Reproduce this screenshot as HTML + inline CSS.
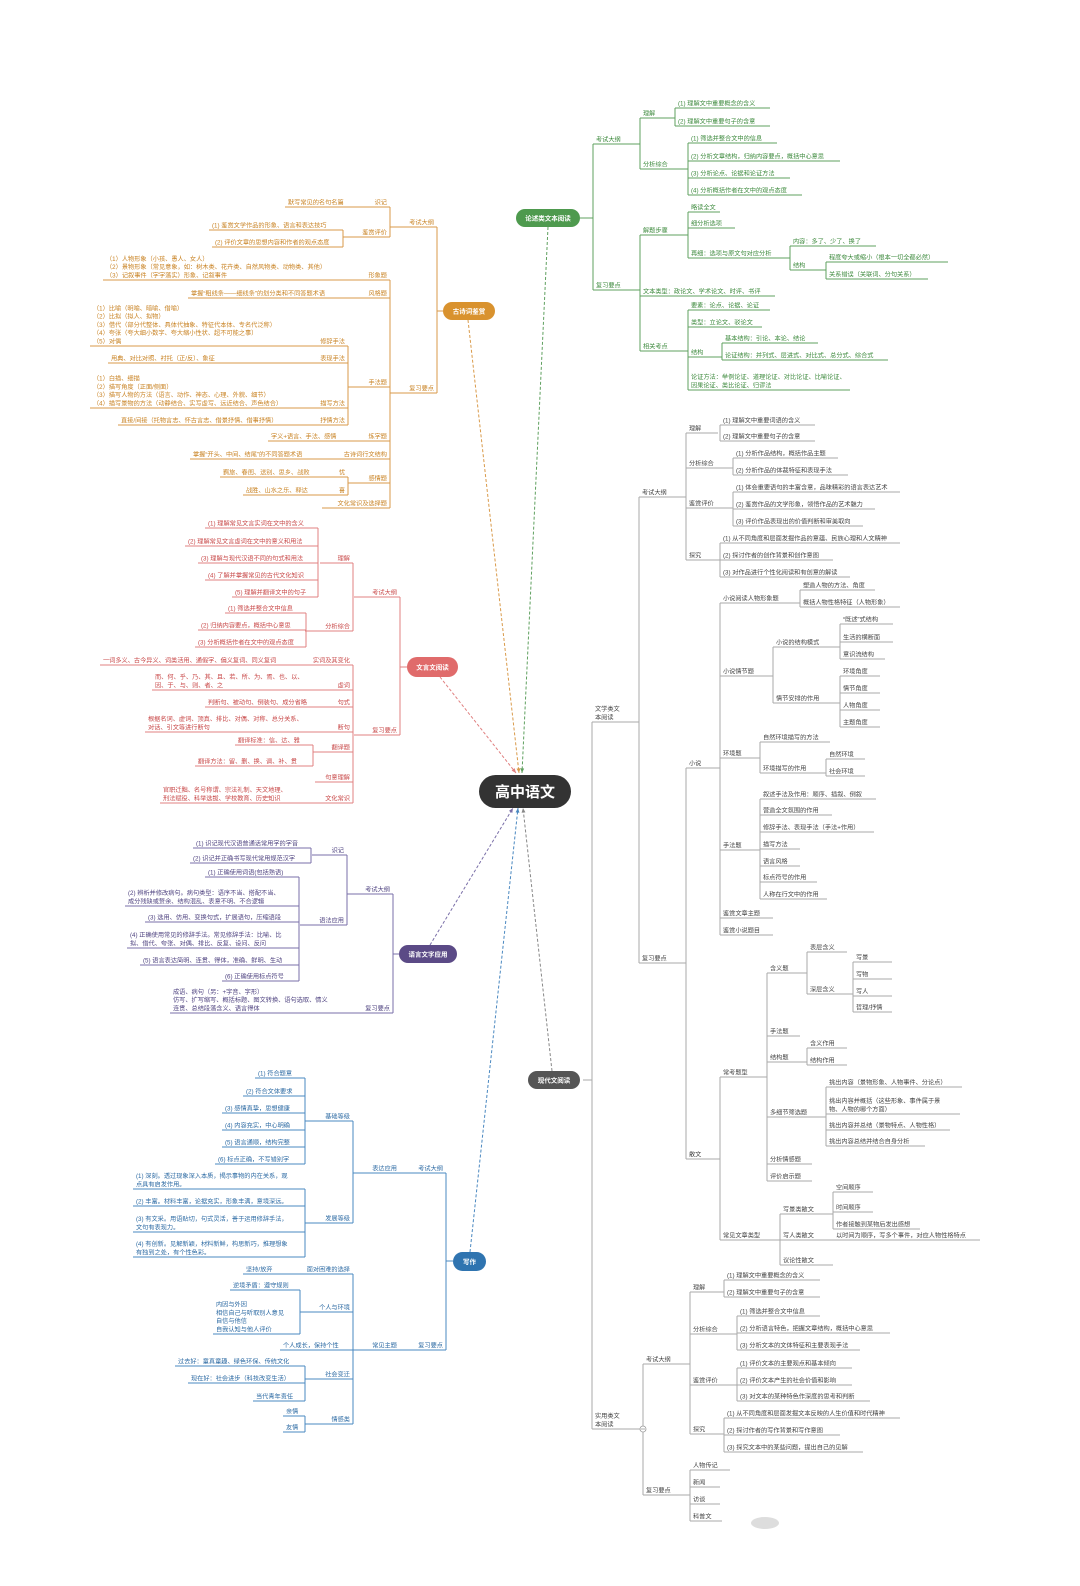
<!DOCTYPE html>
<html><head><meta charset="utf-8">
<style>
html,body{margin:0;padding:0;background:#fff;}
#w{position:relative;width:1080px;height:1586px;overflow:hidden;}
svg{position:absolute;left:0;top:0;}
text{font-family:"Liberation Sans","Noto Sans CJK SC",sans-serif;font-size:6.2px;}
</style></head><body><div id="w"><svg id="s" width="1080" height="1586" viewBox="0 0 1080 1586"></svg></div>
<script>
var C={O:['#c98324','#d99a4a'],G:['#3d8a3d','#5fa05f'],R:['#c84848','#e08080'],P:['#4f4380','#7a6fa8'],U:['#2c6aa3','#4a88c0'],K:['#444','#aaa']};
var out=[];
function B(c,x,y1,y2){out.push('<line x1="'+x+'" y1="'+y1+'" x2="'+x+'" y2="'+y2+'" stroke="'+C[c][1]+'" stroke-width="1"/>');}
function L(c,x1,x2,y,lt,rt){
 out.push('<line x1="'+x1+'" y1="'+y+'" x2="'+x2+'" y2="'+y+'" stroke="'+C[c][1]+'" stroke-width="1"/>');
 if(lt){var a=lt.split('|');for(var i=0;i<a.length;i++){var yy=y-2.5-(a.length-1-i)*8.3;out.push('<text x="'+(x1+3)+'" y="'+yy+'" fill="'+C[c][0]+'">'+a[i]+'</text>');}}
 if(rt){out.push('<text x="'+(x2-3)+'" y="'+(y-2.5)+'" fill="'+C[c][0]+'" text-anchor="end">'+rt+'</text>');}
}
function N(c,x1,y1,x2,y2,t,fs){out.push('<rect x="'+x1+'" y="'+y1+'" width="'+(x2-x1)+'" height="'+(y2-y1)+'" rx="'+((y2-y1)/2)+'" fill="'+c+'"/><text x="'+((x1+x2)/2)+'" y="'+((y1+y2)/2+fs*0.36)+'" fill="#fff" text-anchor="middle" style="font-size:'+fs+'px;font-weight:bold">'+t+'</text>');}
function D(c,x1,y1,x2,y2){out.push('<line x1="'+x1+'" y1="'+y1+'" x2="'+x2+'" y2="'+y2+'" stroke="'+c+'" stroke-width="1" stroke-dasharray="3,2"/>');
 var ang=Math.atan2(y2-y1,x2-x1),l=5;var p1=[x2-l*Math.cos(ang-0.4),y2-l*Math.sin(ang-0.4)],p2=[x2-l*Math.cos(ang+0.4),y2-l*Math.sin(ang+0.4)];
 out.push('<polygon points="'+x2+','+y2+' '+p1+' '+p2+'" fill="'+c+'"/>');}

/* ORANGE 古诗词鉴赏 */
B('O',437,227,393);
L('O',390,437,227,0,'考试大纲');L('O',390,437,393,0,'复习要点');
L('O',443,437,311);
B('O',390,207,237);
L('O',350,390,207,0,'识记');L('O',285,350,207,'默写常见的名句名篇');
L('O',343,390,237,0,'鉴赏评价');B('O',343,230,247);
L('O',209,343,230,'(1) 鉴赏文学作品的形象、语言和表达技巧');
L('O',212,343,247,'(2) 评价文章的思想内容和作者的观点态度');
B('O',390,280,508);
L('O',103,390,280,'（1）人物形象（小孩、愚人、女人）|（2）景物形象（常见意象，如：树木类、花卉类、自然风物类、动物类、其他）|（3）记叙事件（字字落实）形象、记叙事件','形象题');
L('O',188,390,298,'掌握“粗线条——细线条”的划分类和不同答题术语','风格题');
L('O',348,390,387,0,'手法题');B('O',348,346,425);
L('O',90,348,346,'（1）比喻（明喻、暗喻、借喻）|（2）比拟（拟人、拟物）|（3）借代（部分代整体、具体代抽象、特征代本体、专名代泛称）|（4）夸张（夸大细小数字、夸大缩小性状、超不可能之事）|（5）对偶','修辞手法');
L('O',108,348,363,'用典、对比对照、衬托（正/反）、象征','表现手法');
L('O',90,348,408,'（1）白描、细描|（2）描写角度（正面/侧面）|（3）描写人物的方法（语言、动作、神态、心理、外貌、细节）|（4）描写景物的方法（动静结合、实写虚写、远近结合、声色结合）','描写方法');
L('O',118,348,425,'直接/间接（托物言志、怀古言志、借景抒情、借事抒情）','抒情方法');
L('O',268,390,441,'字义+语言、手法、感情','炼字题');
L('O',190,390,459,'掌握“开头、中间、结尾”的不同答题术语','古诗词行文结构');
L('O',348,390,483,0,'感情题');B('O',348,477,495);
L('O',220,348,477,'羁旅、春闺、送别、思乡、战败','忧');
L('O',243,348,495,'战胜、山水之乐、释达','喜');
L('O',322,390,508,0,'文化常识及选择题');

/* GREEN 论述类文本阅读 */
L('G',580,593,218);B('G',593,144,290);
L('G',593,640,144,'考试大纲');L('G',593,640,290,'复习要点');
B('G',640,118,169);
L('G',640,675,118,'理解');B('G',675,108,126);
L('G',675,770,108,'(1) 理解文中重要概念的含义');L('G',675,770,126,'(2) 理解文中重要句子的含意');
L('G',640,688,169,'分析综合');B('G',688,143,195);
L('G',688,777,143,'(1) 筛选并整合文中的信息');
L('G',688,840,161,'(2) 分析文章结构，归纳内容要点，概括中心意思');
L('G',688,790,178,'(3) 分析论点、论据和论证方法');
L('G',688,802,195,'(4) 分析概括作者在文中的观点态度');
B('G',640,235,351);
L('G',640,688,235,'解题步骤');B('G',688,212,258);
L('G',688,720,212,'略读全文');L('G',688,735,228,'细分析选项');
L('G',688,790,258,'再细：选项与原文句对应分析');B('G',790,246,270);
L('G',790,876,246,'内容：多了、少了、换了');
L('G',790,826,270,'结构');B('G',826,262,279);
L('G',826,948,262,'程度夸大或缩小（根本一切全都必然）');
L('G',826,928,279,'关系错误（关联词、分句关系）');
L('G',640,775,296,'文本类型：政论文、学术论文、时评、书评');
L('G',640,688,351,'相关考点');B('G',688,310,390);
L('G',688,770,310,'要素：论点、论据、论证');L('G',688,762,327,'类型：立论文、驳论文');
L('G',688,722,357,'结构');B('G',722,343,360);
L('G',722,818,343,'基本结构：引论、本论、结论');
L('G',722,888,360,'论证结构：并列式、层进式、对比式、总分式、综合式');
L('G',688,850,390,'论证方法：举例论证、道理论证、对比论证、比喻论证、|因果论证、类比论证、归谬法');

/* RED 文言文阅读 */
L('R',400,407,667);B('R',400,597,735);
L('R',354,400,597,0,'考试大纲');L('R',354,400,735,0,'复习要点');
B('R',353,563,631);
L('R',320,353,563,0,'理解');B('R',318,528,597);
L('R',205,318,528,'(1) 理解常见文言实词在文中的含义');
L('R',185,318,546,'(2) 理解常见文言虚词在文中的意义和用法');
L('R',198,318,563,'(3) 理解与现代汉语不同的句式和用法');
L('R',205,318,580,'(4) 了解并掌握常见的古代文化知识');
L('R',232,318,597,'(5) 理解并翻译文中的句子');
L('R',305,353,631,0,'分析综合');B('R',306,613,647);
L('R',225,306,613,'(1) 筛选并整合文中信息');
L('R',198,306,630,'(2) 归纳内容要点，概括中心意思');
L('R',195,306,647,'(3) 分析概括作者在文中的观点态度');
B('R',353,665,803);
L('R',100,353,665,'一词多义、古今异义、词类活用、通假字、偏义复词、同义复词','实词及其变化');
L('R',152,353,690,'而、何、乎、乃、其、且、若、所、为、焉、也、以、|因、于、与、则、者、之','虚词');
L('R',205,353,707,'判断句、被动句、倒装句、成分省略','句式');
L('R',145,353,732,'根据名词、虚词、顶真、排比、对偶、对称、总分关系、|对话、引文等进行断句','断句');
L('R',313,353,752,0,'翻译题');B('R',313,745,766);
L('R',235,313,745,'翻译标准：信、达、雅');L('R',195,313,766,'翻译方法：留、删、换、调、补、贯');
L('R',315,353,782,0,'句意理解');
L('R',160,353,803,'官职迁黜、名号称谓、宗法礼制、天文地理、|刑法赋役、科举选拔、学校教育、历史知识','文化常识');

/* PURPLE 语言文字应用 */
L('P',393,399,954);B('P',393,894,1013);
L('P',347,393,894,0,'考试大纲');
B('P',347,855,925);
L('P',312,347,855,0,'识记');B('P',311,848,863);
L('P',193,311,848,'(1) 识记现代汉语普通话常用字的字音');
L('P',190,311,863,'(2) 识记并正确书写现代常用规范汉字');
L('P',300,347,925,0,'语法应用');B('P',299,877,981);
L('P',205,299,877,'(1) 正确使用词语(包括熟语)');
L('P',125,299,906,'(2) 辨析并修改病句。病句类型：语序不当、搭配不当、|成分残缺或赘余、结构混乱、表意不明、不合逻辑');
L('P',145,299,922,'(3) 选用、仿用、变换句式，扩展语句，压缩语段');
L('P',127,299,948,'(4) 正确使用常见的修辞手法。常见修辞手法：比喻、比|拟、借代、夸张、对偶、排比、反复、设问、反问');
L('P',140,299,965,'(5) 语言表达简明、连贯、得体，准确、鲜明、生动');
L('P',222,299,981,'(6) 正确使用标点符号');
L('P',170,393,1013,'成语、病句（另：+字音、字形）|仿写、扩写缩写、概括标题、图文转换、语句选取、情义|连贯、总结段落含义、语言得体','复习要点');

/* BLUE 写作 */
L('U',446,453,1261);B('U',446,1173,1350);
L('U',400,446,1173,0,'考试大纲');L('U',353,400,1173,0,'表达应用');
B('U',353,1121,1223);
L('U',305,353,1121,0,'基础等级');B('U',305,1078,1164);
L('U',255,305,1078,'(1) 符合题意');L('U',243,305,1096,'(2) 符合文体要求');
L('U',222,305,1113,'(3) 感情真挚，思想健康');L('U',222,305,1130,'(4) 内容充实，中心明确');
L('U',222,305,1147,'(5) 语言通顺，结构完整');L('U',215,305,1164,'(6) 标点正确，不写错别字');
L('U',305,353,1223,0,'发展等级');B('U',305,1189,1257);
L('U',133,305,1189,'(1) 深刻。透过现象深入本质，揭示事物的内在关系，观|点具有启发作用。');
L('U',133,305,1206,'(2) 丰富。材料丰富，论据充实，形象丰满，意境深远。');
L('U',133,305,1232,'(3) 有文采。用语贴切，句式灵活，善于运用修辞手法，|文句有表现力。');
L('U',133,305,1257,'(4) 有创新。见解新颖，材料新鲜，构思新巧，推理想象|有独到之处，有个性色彩。');
L('U',400,446,1350,0,'复习要点');L('U',353,400,1350,0,'常见主题');
B('U',353,1274,1424);
L('U',243,353,1274,'坚持/放弃','面对困难的选择');
L('U',300,353,1312,0,'个人与环境');B('U',300,1290,1334);
L('U',230,300,1290,'逆境矛盾：遵守规则');
L('U',213,300,1334,'内因与外因|相信自己与听取别人意见|自信与他信|自我认知与他人评价');
L('U',280,353,1350,'个人成长，保持个性');
L('U',305,353,1379,0,'社会变迁');B('U',305,1366,1401);
L('U',175,305,1366,'过去好：童真童趣、绿色环保、传统文化');
L('U',188,305,1383,'现在好：社会进步（科技改变生活）');
L('U',253,305,1401,'当代青年责任');
L('U',305,353,1424,0,'情感类');B('U',305,1416,1432);
L('U',283,305,1416,'亲情');L('U',283,305,1432,'友情');

/* GRAY 现代文阅读 */
L('K',583,592,1080);B('K',592,722,1429);
L('K',592,639,722,'文学类文|本阅读');
B('K',639,497,963);
L('K',639,686,497,'考试大纲');
B('K',686,433,560);
L('K',686,718,433,'理解');B('K',720,425,441);
L('K',720,815,425,'(1) 理解文中重要词语的含义');L('K',720,815,441,'(2) 理解文中重要句子的含意');
L('K',686,733,468,'分析综合');B('K',733,458,475);
L('K',733,838,458,'(1) 分析作品结构，概括作品主题');L('K',733,848,475,'(2) 分析作品的体裁特征和表现手法');
L('K',686,733,508,'鉴赏评价');B('K',733,492,526);
L('K',733,900,492,'(1) 体会重要语句的丰富含意，品味精彩的语言表达艺术');
L('K',733,875,509,'(2) 鉴赏作品的文学形象，领悟作品的艺术魅力');
L('K',733,863,526,'(3) 评价作品表现出的价值判断和审美取向');
L('K',686,720,560,'探究');B('K',720,543,577);
L('K',720,900,543,'(1) 从不同角度和层面发掘作品的意蕴、民族心理和人文精神');
L('K',720,833,560,'(2) 探讨作者的创作背景和创作意图');
L('K',720,850,577,'(3) 对作品进行个性化阅读和有创意的解读');
L('K',639,686,963,'复习要点');
B('K',686,768,1159);
L('K',686,720,768,'小说');B('K',720,603,935);
L('K',720,800,603,'小说阅读人物形象题');B('K',800,590,607);
L('K',800,875,590,'塑造人物的方法、角度');L('K',800,900,607,'概括人物性格特征（人物形象）');
L('K',720,773,676,'小说情节题');B('K',773,647,703);
L('K',773,840,647,'小说的结构模式');B('K',840,624,659);
L('K',840,893,624,'“既述”式结构');L('K',840,893,642,'生活的横断面');L('K',840,885,659,'意识流结构');
L('K',773,840,703,'情节安排的作用');B('K',840,676,727);
L('K',840,880,676,'环境角度');L('K',840,880,693,'情节角度');L('K',840,880,710,'人物角度');L('K',840,880,727,'主题角度');
L('K',720,760,758,'环境题');B('K',760,742,773);
L('K',760,830,742,'自然环境描写的方法');
L('K',760,826,773,'环境描写的作用');B('K',826,759,776);
L('K',826,865,759,'自然环境');L('K',826,865,776,'社会环境');
L('K',720,760,850,'手法题');B('K',760,799,899);
L('K',760,876,799,'叙述手法及作用：顺序、插叙、倒叙');
L('K',760,832,815,'营造全文氛围的作用');
L('K',760,874,832,'修辞手法、表现手法（手法+作用）');
L('K',760,800,849,'描写方法');L('K',760,800,866,'语言风格');
L('K',760,817,882,'标点符号的作用');L('K',760,827,899,'人称在行文中的作用');
L('K',720,773,918,'鉴赏文章主题');L('K',720,773,935,'鉴赏小说题目');
L('K',686,720,1159,'散文');B('K',720,1077,1240);
L('K',720,767,1077,'常考题型');B('K',767,973,1181);
L('K',767,807,973,'含义题');B('K',807,952,994);
L('K',807,847,952,'表层含义');
L('K',807,853,994,'深层含义');B('K',853,962,1012);
L('K',853,892,962,'写景');L('K',853,892,979,'写物');L('K',853,892,996,'写人');L('K',853,892,1012,'哲理/抒情');
L('K',767,800,1036,'手法题');
L('K',767,807,1062,'结构题');B('K',807,1048,1065);
L('K',807,847,1048,'含义作用');L('K',807,847,1065,'结构作用');
L('K',767,826,1117,'多细节筛选题');B('K',826,1087,1146);
L('K',826,962,1087,'挑出内容（景物形象、人物事件、分论点）');
L('K',826,960,1114,'挑出内容并概括（这些形象、事件属于景|物、人物的哪个方面）');
L('K',826,950,1130,'挑出内容并总结（景物特点、人物性格）');
L('K',826,925,1146,'挑出内容总结并结合自身分析');
L('K',767,812,1164,'分析情感题');L('K',767,812,1181,'评价启示题');
L('K',720,780,1240,'常见文章类型');B('K',780,1214,1265);
L('K',780,833,1214,'写景类散文');B('K',833,1192,1229);
L('K',833,873,1192,'空间顺序');L('K',833,873,1212,'时间顺序');L('K',833,920,1229,'作者接触到某物后发出感想');
L('K',780,833,1240,'写人类散文');L('K',833,980,1240,'以时间为顺序，写多个事件，对应人物性格特点');
L('K',780,833,1265,'议论性散文');
L('K',592,643,1429,'实用类文|本阅读');
B('K',643,1364,1495);
L('K',643,690,1364,'考试大纲');B('K',690,1292,1434);
L('K',690,724,1292,'理解');B('K',724,1280,1297);
L('K',724,820,1280,'(1) 理解文中重要概念的含义');L('K',724,820,1297,'(2) 理解文中重要句子的含意');
L('K',690,737,1334,'分析综合');B('K',737,1316,1350);
L('K',737,820,1316,'(1) 筛选并整合文中信息');
L('K',737,890,1333,'(2) 分析语言特色，把握文章结构，概括中心意思');
L('K',737,860,1350,'(3) 分析文本的文体特征和主要表现手法');
L('K',690,737,1385,'鉴赏评价');B('K',737,1368,1401);
L('K',737,852,1368,'(1) 评价文本的主要观点和基本倾向');
L('K',737,852,1385,'(2) 评价文本产生的社会价值和影响');
L('K',737,870,1401,'(3) 对文本的某种特色作深度的思考和判断');
L('K',690,724,1434,'探究');B('K',724,1418,1452);
L('K',724,900,1418,'(1) 从不同角度和层面发掘文本反映的人生价值和时代精神');
L('K',724,840,1435,'(2) 探讨作者的写作背景和写作意图');
L('K',724,863,1452,'(3) 探究文本中的某些问题，提出自己的见解');
L('K',643,690,1495,'复习要点');B('K',690,1470,1521);
L('K',690,730,1470,'人物传记');L('K',690,720,1487,'新闻');L('K',690,720,1504,'访谈');L('K',690,722,1521,'科普文');
out.push('<circle cx="643" cy="1429" r="3" fill="#fff" stroke="#999" stroke-width="0.8"/><line x1="641" y1="1429" x2="645" y2="1429" stroke="#999" stroke-width="0.8"/>');

/* dashed connectors */
D('#d99a4a',468,320,519,773);
D('#5fa05f',548,227,522,773);
D('#e08080',440,677,516,773);
D('#7a6fa8',430,945,513,808);
D('#4a88c0',470,1252,518,808);
D('#888',552,1071,523,808);

/* nodes */
N('#d9922e',443,302,495,320,'古诗词鉴赏',6.5);
N('#4e9a4e',516,209,580,227,'论述类文本阅读',6.5);
N('#e06b6b',407,657,458,677,'文言文阅读',6.5);
N('#5b4a86',399,945,457,963,'语言文字应用',6.5);
N('#2f74b0',453,1252,486,1271,'写作',6.5);
N('#555',528,1071,580,1089,'现代文阅读',6.5);
N('#333',479,775,571,808,'高中语文',15);
out.push('<ellipse cx="765" cy="1523" rx="14" ry="6" fill="#ddd"/>');
document.getElementById('s').innerHTML=out.join('');
</script>
</body></html>
